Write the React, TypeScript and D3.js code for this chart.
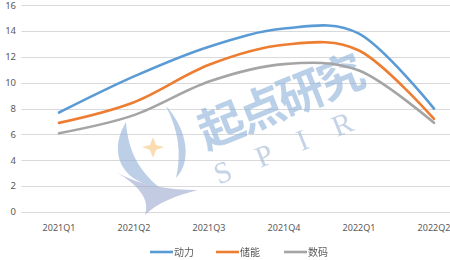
import React from "react";
import * as d3 from "d3";

const categories = ["2021Q1", "2021Q2", "2021Q3", "2021Q4", "2022Q1", "2022Q2"];
const power = [7.7, 10.5, 12.8, 14.2, 13.8, 8.0];
const storage = [6.9, 8.5, 11.4, 12.95, 12.5, 7.2];
const digital = [6.1, 7.5, 10.1, 11.45, 10.95, 6.9];
const yTicks = [0, 2, 4, 6, 8, 10, 12, 14, 16];
const seriesNames = ["动力", "储能", "数码"];
const colors = ["#5B9BD5", "#ED7D31", "#A5A5A5"];

const W = 450;
const H = 260;

export default function App() {
  const x = d3.scaleBand<string>().domain(categories).range([21.5, 471.5]);
  const y = d3.scaleLinear().domain([0, 16]).range([212, 5.3]);
  const cx = (c: string) => (x(c) as number) + x.bandwidth() / 2;
  const series = [power, storage, digital];
  const line = d3
    .line<number>()
    .x((_, i) => cx(categories[i]))
    .y((d) => y(d))
    .curve(d3.curveCatmullRom.alpha(0));

  const tickFont = "'Noto Sans', 'DejaVu Sans', sans-serif";
  const cjk = "'Noto Sans CJK SC', sans-serif";
  const legendX = [150, 216, 284];

  return (
    <svg
      width={W}
      height={H}
      style={{ position: "absolute", left: 0, top: 0, background: "#fff" }}
    >
      {yTicks.map((t) => (
        <g key={t}>
          <line x1={21.5} x2={W} y1={Math.round(y(t)) + 0.5} y2={Math.round(y(t)) + 0.5} stroke="#D9D9D9" strokeWidth={1} />
          <text x={16} y={y(t)} dy="0.35em" textAnchor="end" fontSize={9.5} fill="#595959" fontFamily={tickFont}>
            {t}
          </text>
        </g>
      ))}
      {categories.map((c) => (
        <text key={c} x={cx(c)} y={228} dy="0.35em" textAnchor="middle" fontSize={9} fill="#595959" fontFamily={tickFont}>
          {c}
        </text>
      ))}

      {/* watermark */}
      <g opacity={0.6}>
        <path d="M126,122 C108,152 120,182 160,188 C138,170 128,150 126,122 Z" fill="#8FB0D8" />
        <path d="M166,106 C188,130 192,162 176,178 C182,152 178,130 166,106 Z" fill="#8FB0D8" />
        <path d="M116,172 C140,186 172,190 198,190 C176,196 158,202 145,215 C150,200 140,186 116,172 Z" fill="#9BA9CF" />
        <path d="M153,137 L156,145 L164,147 L156,150 L153,158 L150,150 L142,147 L150,145 Z" fill="#F5C77E" />
        <text
          x={286}
          y={117}
          textAnchor="middle"
          fontSize={46}
          fontWeight="bold"
          fill="#8DB1D9"
          fontFamily={cjk}
          transform="rotate(-22 286 117)"
          letterSpacing={-3}
        >
          起点研究
        </text>
        <text
          x={300}
          y={152}
          textAnchor="middle"
          fontSize={30}
          fill="#9DB6D6"
          fontFamily="'Liberation Serif', serif"
          transform="rotate(-22 300 152)"
          letterSpacing={28}
        >
          SPIR
        </text>
      </g>

      {series.map((s, i) => (
        <path key={i} d={line(s) || ""} fill="none" stroke={colors[i]} strokeWidth={2.6} strokeLinecap="round" />
      ))}

      {seriesNames.map((n, i) => (
        <g key={n}>
          <line x1={legendX[i]} x2={legendX[i] + 23} y1={252} y2={252} stroke={colors[i]} strokeWidth={2.6} />
          <text x={legendX[i] + 24} y={252} dy="0.35em" fontSize={10} fill="#595959" fontFamily={cjk}>
            {n}
          </text>
        </g>
      ))}
    </svg>
  );
}
